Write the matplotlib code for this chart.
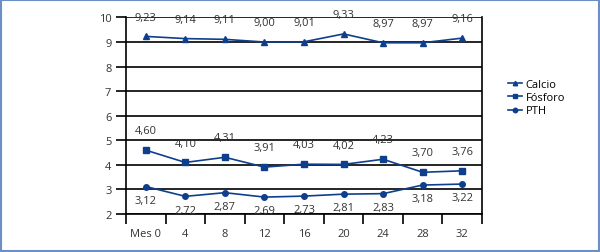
import numpy as np
import matplotlib.pyplot as plt
from matplotlib.patches import Rectangle

meses = ["Mes 0", "4", "8", "12", "16", "20", "24", "28", "32"]
calcio = [9.23, 9.14, 9.11, 9.00, 9.01, 9.33, 8.97, 8.97, 9.16]
fosforo = [4.60, 4.10, 4.31, 3.91, 4.03, 4.02, 4.23, 3.70, 3.76]
pth = [3.12, 2.72, 2.87, 2.69, 2.73, 2.81, 2.83, 3.18, 3.22]

azul = "#0f3f8c"
plt.rcParams['font.family'] = ['Open Sans', 'DejaVu Sans']

fig = plt.figure(figsize=(6, 2.53), dpi=100)
ax = fig.add_axes([0.21, 0.15, 0.5933, 0.777])

x = np.arange(len(meses))
l1, = ax.plot(x, calcio, color=azul, lw=1.2, marker="^", ms=4, label="Calcio")
l2, = ax.plot(x, fosforo, color=azul, lw=1.2, marker="s", ms=4, label="Fósforo")
l3, = ax.plot(x, pth, color=azul, lw=1.2, marker="o", ms=4, label="PTH")

def fmt(v):
    return f"{v:.2f}".replace(".", ",")

for xi, v in zip(x, calcio):
    ax.annotate(fmt(v), (xi, v), xytext=(0, 10), textcoords="offset points",
                ha="center", va="bottom", fontsize=8, color="#333333")
for xi, v in zip(x, fosforo):
    ax.annotate(fmt(v), (xi, v), xytext=(0, 10), textcoords="offset points",
                ha="center", va="bottom", fontsize=8, color="#333333")
for xi, v in zip(x, pth):
    ax.annotate(fmt(v), (xi, v), xytext=(0, -6), textcoords="offset points",
                ha="center", va="top", fontsize=8, color="#333333")

ax.set_xlim(-0.5, len(meses) - 0.5)
ax.set_ylim(2, 10)
ax.set_yticks(range(2, 11))
ax.set_xticks(x)
ax.set_xticklabels(meses)
ax.set_xticks(np.arange(-0.5, len(meses)), minor=True)
ax.tick_params(axis="x", which="major", length=0, pad=10, labelsize=8, labelcolor="#333333")
ax.tick_params(axis="x", which="minor", length=7, width=1.2, direction="out", color="black")
ax.tick_params(axis="y", length=7, width=1.2, labelsize=8, labelcolor="#333333")
ax.yaxis.grid(True, color="black", lw=1.2)
ax.set_axisbelow(True)
for s in ["left", "bottom", "right"]:
    ax.spines[s].set_linewidth(1.2)
ax.spines["top"].set_visible(False)

fig.legend(handles=[l1, l2, l3], loc="center left", bbox_to_anchor=(0.83, 0.61),
           frameon=False, fontsize=8, handlelength=1.3, handletextpad=0.3,
           labelspacing=0.2, markerscale=0.8)

fig.patches.append(Rectangle((0.002, 0.004), 0.996, 0.992, transform=fig.transFigure,
                             fill=False, edgecolor="#6b8fc4", lw=1.5))

fig.savefig("out.png", dpi=100)
